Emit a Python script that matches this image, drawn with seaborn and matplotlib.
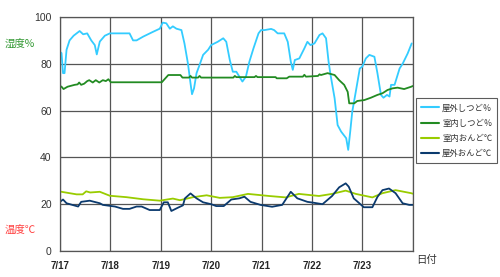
import numpy as np
import pandas as pd
import matplotlib
matplotlib.use("Agg")
import matplotlib.pyplot as plt
import seaborn as sns

# ---- data (x = days since 7/17 00:00) ----
day_labels = ["7/17", "7/18", "7/19", "7/20", "7/21", "7/22", "7/23"]
y_ticks = [0, 20, 40, 60, 80, 100]
series_names = ["屋外しつど％", "室内しつど％", "室内おんど℃", "屋外おんど℃"]

out_hum_t = [0.00, 0.03, 0.06, 0.09, 0.13, 0.19, 0.27, 0.39, 0.46, 0.54, 0.62, 0.69, 0.73, 0.79, 0.89, 0.99,
             1.38, 1.45, 1.52, 1.65, 1.85, 1.98, 2.04, 2.11, 2.18, 2.24, 2.31, 2.41, 2.47, 2.54, 2.59, 2.62,
             2.66, 2.71, 2.77, 2.84, 2.94, 3.00, 3.13, 3.24, 3.30, 3.37, 3.43, 3.50, 3.56, 3.62, 3.69, 3.76,
             3.84, 3.94, 3.99, 4.06, 4.19, 4.25, 4.32, 4.45, 4.52, 4.58, 4.62, 4.66, 4.75, 4.85, 4.91, 4.97,
             5.05, 5.15, 5.21, 5.28, 5.33, 5.37, 5.45, 5.51, 5.58, 5.68, 5.72, 5.76, 5.80, 5.87, 5.95, 6.00,
             6.07, 6.14, 6.24, 6.30, 6.37, 6.42, 6.49, 6.54, 6.57, 6.64, 6.74, 6.80, 6.90, 6.98]
out_hum_v = [85, 84.6, 76, 76, 86, 90, 92, 94, 92.6, 93, 90, 88, 84, 89.5, 92, 93,
             93, 90, 90, 91.6, 93.7, 95, 97.6, 97.3, 95, 96, 95, 94.4, 88.7, 80, 71.7, 67,
             69.5, 76, 79.5, 83.8, 86, 88, 89.4, 90.9, 89.4, 81.6, 76.6, 76.6, 74.5, 72.4, 74.5, 81,
             86.6, 93, 94.4, 94.4, 94.9, 94.4, 93, 93, 89.4, 81, 77.4, 81.6, 82.3, 86.6, 89.4, 88,
             88.7, 92.3, 93, 90.9, 81, 75.2, 65.3, 53.8, 51, 48.2, 43.2, 51, 59.5, 68, 78, 78.8,
             82.3, 83.8, 83, 76, 66.7, 65.5, 66.7, 66, 71, 71, 78, 80, 84.4, 88.7]

in_hum_t = [0.00, 0.03, 0.07, 0.15, 0.29, 0.35, 0.38, 0.42, 0.48, 0.54, 0.58, 0.65, 0.71, 0.78, 0.85, 0.91,
            0.96, 1.01, 2.02, 2.15, 2.39, 2.43, 2.56, 2.59, 2.62, 2.74, 2.77, 2.80, 3.44, 3.47, 3.50, 3.86,
            3.89, 3.92, 4.28, 4.30, 4.50, 4.55, 4.82, 4.85, 4.88, 5.12, 5.15, 5.18, 5.31, 5.45, 5.54, 5.64,
            5.71, 5.74, 5.84, 5.90, 6.04, 6.17, 6.30, 6.40, 6.50, 6.60, 6.70, 6.83, 6.97, 7.00]
in_hum_v = [70.5, 70.2, 69.2, 70.2, 71, 71.2, 72, 71, 71.5, 72.6, 73, 72, 73, 72, 73, 72.6,
            73.4, 72.1, 72.1, 75.2, 75.2, 74.1, 74.1, 74.8, 74.1, 74.1, 74.8, 74.1, 74.1, 74.8, 74.3, 74.3,
            74.8, 74.3, 74.3, 73.8, 73.8, 74.5, 74.5, 75.3, 74.5, 74.8, 75.5, 75.2, 76, 75.2, 73, 71,
            68, 63.1, 63.1, 64.1, 64.5, 65.5, 66.7, 67.4, 68.8, 69.5, 69.8, 69.2, 70.2, 70.5]

in_temp_t = [0.00, 0.33, 0.45, 0.52, 0.60, 0.79, 0.99, 1.32, 1.65, 1.98, 2.24, 2.38, 2.64, 2.91, 3.17, 3.43,
             3.73, 4.15, 4.48, 4.74, 5.14, 5.40, 5.67, 5.87, 6.20, 6.40, 6.66, 6.97, 7.00]
in_temp_v = [25.4, 24.2, 24.2, 25.5, 25.0, 25.3, 23.6, 23.0, 22.1, 21.5, 22.4, 21.7, 23.0, 23.8, 22.7, 23.0,
             24.4, 23.5, 22.9, 24.4, 23.5, 24.4, 25.8, 24.4, 22.9, 24.7, 26.0, 24.7, 24.5]

out_temp_t = [0.00, 0.06, 0.13, 0.36, 0.42, 0.59, 0.79, 0.85, 1.09, 1.25, 1.38, 1.52, 1.62, 1.78, 1.98, 2.06,
              2.14, 2.21, 2.34, 2.44, 2.48, 2.59, 2.71, 2.84, 3.00, 3.10, 3.25, 3.40, 3.56, 3.66, 3.78, 3.98,
              4.21, 4.41, 4.58, 4.71, 4.91, 5.04, 5.21, 5.40, 5.54, 5.67, 5.73, 5.83, 6.03, 6.20, 6.30, 6.40,
              6.53, 6.66, 6.80, 6.93, 7.00]
out_temp_v = [21, 22, 20.4, 19, 21, 21.5, 20.4, 19.7, 19, 18, 18, 19, 19, 17.5, 17.5, 20.8,
              20.8, 17.1, 18.5, 19.5, 22.5, 24.6, 22.5, 20.8, 20, 19.2, 19.2, 22, 22.5, 23.2, 21, 19.7,
              18.9, 19.7, 25.3, 22.5, 21, 20.6, 20, 23.5, 27.2, 28.9, 27.5, 22.5, 18.7, 18.7, 23.1, 26,
              26.7, 24.7, 20.4, 19.7, 19.7]

colors = ["#33CCFF", "#228B22", "#99CC00", "#0B3A6E"]

frames = []
for name, t, v in zip(series_names,
                      [out_hum_t, in_hum_t, in_temp_t, out_temp_t],
                      [out_hum_v, in_hum_v, in_temp_v, out_temp_v]):
    frames.append(pd.DataFrame({"day": t, "value": v, "series": name}))
df = pd.concat(frames, ignore_index=True)

sns.set_theme(style="white")
plt.rcParams['font.family'] = ['Noto Sans CJK JP', 'DejaVu Sans']

fig = plt.figure(figsize=(5.0, 2.77), dpi=100)
ax = fig.add_axes([0.12, 0.0939, 0.7054, 0.8448])

sns.lineplot(data=df, x="day", y="value", hue="series", hue_order=series_names,
             palette=colors, estimator=None, sort=False, linewidth=1.3, ax=ax, legend=False)

ax.set_xlim(0, 7)
ax.set_ylim(0, 100)
ax.set_xticks(range(7))
ax.set_xticklabels(day_labels, fontsize=7, fontweight="bold", family=["Liberation Sans"])
ax.set_yticks(y_ticks)
ax.set_yticklabels([str(v) for v in y_ticks], fontsize=7.5, color="#333333", family=["Liberation Sans"])
ax.set_xticks(range(8), minor=False)
ax.set_xticklabels(day_labels + [""], fontsize=7, fontweight="bold", family=["Liberation Sans"])
ax.grid(True, color="#555555", linewidth=0.9)
ax.tick_params(axis="both", length=3, width=0.8, color="#555555", pad=3, direction="out")
ax.tick_params(axis="x", pad=4)
for s in ax.spines.values():
    s.set_color("#555555")
    s.set_linewidth(0.9)
ax.set_xlabel("")
ax.set_ylabel("")

fig.text(0.01, 0.84, "湿度%", color="#339933", fontsize=7.5, va="center", ha="left")
fig.text(0.01, 0.17, "温度℃", color="#FF4040", fontsize=7.5, va="center", ha="left")
fig.text(0.832, 0.06, "日付", color="#333333", fontsize=7.5, va="center", ha="left")

from matplotlib.lines import Line2D
handles = [Line2D([0], [0], color=c, lw=1.5) for c in colors]
leg = fig.legend(handles, series_names, loc="upper left", bbox_to_anchor=(0.831, 0.645),
                 fontsize=6, frameon=True, fancybox=False, handlelength=2.2, handletextpad=0.4,
                 labelspacing=0.75, borderpad=0.6, borderaxespad=0)
leg.get_frame().set_edgecolor("#333333")
leg.get_frame().set_linewidth(0.8)
for t in leg.get_texts():
    t.set_color("#333333")

fig.savefig("out.png", dpi=100)
